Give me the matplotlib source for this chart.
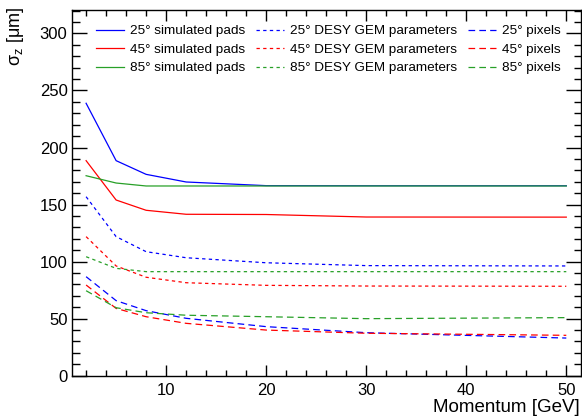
import numpy as np
import matplotlib
matplotlib.use('Agg')
import matplotlib.pyplot as plt
from matplotlib.ticker import MultipleLocator

plt.rcParams['font.family'] = ['Liberation Sans', 'DejaVu Sans']
plt.rcParams['mathtext.fontset'] = 'custom'
plt.rcParams['mathtext.rm'] = 'Liberation Sans'
plt.rcParams['mathtext.it'] = 'Liberation Sans'
plt.rcParams['lines.scale_dashes'] = False

# momentum points [GeV]
momentum = [2, 5, 8, 12, 20, 30, 50]

# sigma_z [um], simulated pads
pads_25 = [238.8, 188.5, 176.5, 169.8, 166.6, 166.5, 166.5]
pads_45 = [188.5, 154.0, 145.0, 141.5, 141.3, 139.1, 139.0]
pads_85 = [175.3, 168.9, 166.3, 166.3, 166.3, 166.3, 166.3]

# DESY GEM parameters
desy_25 = [156.9, 121.9, 108.7, 103.4, 99.0, 96.5, 96.2]
desy_45 = [121.9, 96.2, 86.3, 81.5, 79.2, 78.6, 78.4]
desy_85 = [104.3, 94.1, 91.2, 91.2, 91.2, 91.2, 91.2]

# pixels
pix_25 = [86.8, 65.8, 57.0, 50.3, 43.0, 37.7, 33.0]
pix_45 = [79.5, 59.0, 51.7, 45.9, 40.0, 37.2, 35.4]
pix_85 = [74.5, 59.6, 55.2, 53.0, 51.7, 50.0, 50.9]

angles = ['25', '45', '85']
col = {'25': '#0000ff', '45': '#ff0000', '85': '#28a028'}

fig = plt.figure(figsize=(5.82, 4.17), dpi=100)
ax = fig.add_axes([71.7/582, 41.3/417, (580.7-71.7)/582, (375.7-9.5)/417])

lw = 0.9
short_dash = (2.4, 2.4)
long_dash = (4.8, 3.0)

for a, y in zip(angles, [pads_25, pads_45, pads_85]):
    ax.plot(momentum, y, color=col[a], lw=lw, label=a + '° simulated pads')
for a, y in zip(angles, [desy_25, desy_45, desy_85]):
    ax.plot(momentum, y, color=col[a], lw=lw, dashes=short_dash,
            label=a + '° DESY GEM parameters')
for a, y in zip(angles, [pix_25, pix_45, pix_85]):
    ax.plot(momentum, y, color=col[a], lw=lw, dashes=long_dash,
            label=a + '° pixels')

ax.set_xlim(0.56, 51.44)
ax.set_ylim(0, 321)
ax.xaxis.set_major_locator(MultipleLocator(10))
ax.xaxis.set_minor_locator(MultipleLocator(2))
ax.yaxis.set_major_locator(MultipleLocator(50))
ax.yaxis.set_minor_locator(MultipleLocator(10))
ax.tick_params(which='both', direction='in', top=True, right=True, width=1.0,
               labelsize=12)
ax.tick_params(axis='x', which='major', length=8, pad=5)
ax.tick_params(axis='x', which='minor', length=4)
ax.tick_params(axis='y', which='major', length=11, pad=3)
ax.tick_params(axis='y', which='minor', length=5.4)
for s in ax.spines.values():
    s.set_linewidth(1.0)

fig.text(580/582, 1 - 407/417, 'Momentum [GeV]', ha='right', va='center',
         fontsize=13.5)
fig.text(15/582, 1 - 7/417, 'σ$_\\mathrm{z}$ [μm]', ha='center', va='top',
         rotation=90, fontsize=13)

leg = ax.legend(ncol=3, frameon=False, fontsize=9.7, loc='upper left',
                bbox_to_anchor=(96/582, 1 - 25/417), bbox_transform=fig.transFigure,
                borderpad=0, borderaxespad=0, handlelength=2.07,
                handletextpad=0.45, columnspacing=0.8, labelspacing=0.45)

fig.savefig('out.png', dpi=100)
